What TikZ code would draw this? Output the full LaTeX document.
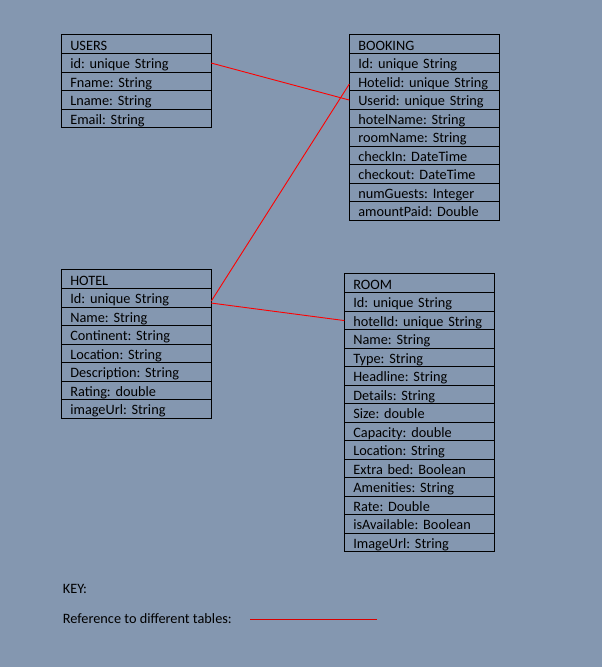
\documentclass[tikz,border=0pt]{standalone}
\usepackage{fontspec}
\usepackage{xcolor}
\usepackage{tikz}
\usetikzlibrary{positioning}
\setmainfont{Carlito}
\definecolor{bgblue}{HTML}{8497B0}
\newcommand{\tabfont}{\fontsize{14.3}{17}\selectfont\frenchspacing}
\tikzset{
	row/.style={draw=black, line width=0.9pt, outer sep=0pt, anchor=north west, minimum width=150pt, text width=132pt, inner xsep=9pt, inner ysep=0pt, minimum height=18.5pt, text height=14.8pt, text depth=3.7pt, align=left, font=\tabfont},
	head/.style={row, minimum height=19.5pt, text height=15.8pt},
	keytext/.style={anchor=base west, inner sep=0pt, font=\tabfont},
	link/.style={draw=red, line width=0.9pt}
}
\begin{document}
\begin{tikzpicture}[x=1pt, y=-1pt]
				\fill[bgblue] (0,0) rectangle (602,667);
				\useasboundingbox (0,0) rectangle (602,667);

				\node[head] (users) at (61.3,34.3) {USERS};
				\node[row, below=0pt of users] (uid) {id: unique String};
				\node[row, below=0pt of uid] (ufname) {Fname: String};
				\node[row, below=0pt of ufname] (ulname) {Lname: String};
				\node[row, below=0pt of ulname] (uemail) {Email: String};

				\node[head] (booking) at (349.3,34.3) {BOOKING};
				\node[row, below=0pt of booking] (bkid) {Id: unique String};
				\node[row, below=0pt of bkid] (bkhotel) {Hotelid: unique String};
				\node[row, below=0pt of bkhotel] (bkuser) {Userid: unique String};
				\node[row, below=0pt of bkuser] (bkhname) {hotelName: String};
				\node[row, below=0pt of bkhname] (bkrname) {roomName: String};
				\node[row, below=0pt of bkrname] (bkin) {checkIn: DateTime};
				\node[row, below=0pt of bkin] (bkout) {checkout: DateTime};
				\node[row, below=0pt of bkout] (bkguests) {numGuests: Integer};
				\node[row, below=0pt of bkguests] (bkpaid) {amountPaid: Double};

				\node[head] (hotel) at (61.3,269.3) {HOTEL};
				\node[row, below=0pt of hotel] (hid) {Id: unique String};
				\node[row, below=0pt of hid] (hname) {Name: String};
				\node[row, below=0pt of hname] (hcont) {Continent: String};
				\node[row, below=0pt of hcont] (hloc) {Location: String};
				\node[row, below=0pt of hloc] (hdesc) {Description: String};
				\node[row, below=0pt of hdesc] (hrating) {Rating: double};
				\node[row, below=0pt of hrating] (himage) {imageUrl: String};

				\node[head] (room) at (344.3,273.3) {ROOM};
				\node[row, below=0pt of room] (rmid) {Id: unique String};
				\node[row, below=0pt of rmid] (rmhotel) {hotelId: unique String};
				\node[row, below=0pt of rmhotel] (rmname) {Name: String};
				\node[row, below=0pt of rmname] (rmtype) {Type: String};
				\node[row, below=0pt of rmtype] (rmhead) {Headline: String};
				\node[row, below=0pt of rmhead] (rmdetails) {Details: String};
				\node[row, below=0pt of rmdetails] (rmsize) {Size: double};
				\node[row, below=0pt of rmsize] (rmcap) {Capacity: double};
				\node[row, below=0pt of rmcap] (rmloc) {Location: String};
				\node[row, below=0pt of rmloc] (rmbed) {Extra bed: Boolean};
				\node[row, below=0pt of rmbed] (rmamen) {Amenities: String};
				\node[row, below=0pt of rmamen] (rmrate) {Rate: Double};
				\node[row, below=0pt of rmrate] (rmavail) {isAvailable: Boolean};
				\node[row, below=0pt of rmavail] (rmimage) {ImageUrl: String};

				\draw[link] (uid.east) -- (bkuser.west);
				\draw[link] ([yshift=-3pt]hid.east) -- ([yshift=-2.5pt]bkhotel.west);
				\draw[link] ([yshift=-5pt]hid.east) -- (rmhotel.west);

				\node[keytext] (key) at (62.7,593.3) {KEY:};
				\node[keytext] (keyref) at (62.7,623.3) {Reference to different tables:};
				\coordinate (keya) at (250,619.3);
				\coordinate (keyb) at (377.3,619.3);
				\draw[draw=red!85!black, line width=0.6pt] (keya) -- (keyb);
\end{tikzpicture}
\end{document}
